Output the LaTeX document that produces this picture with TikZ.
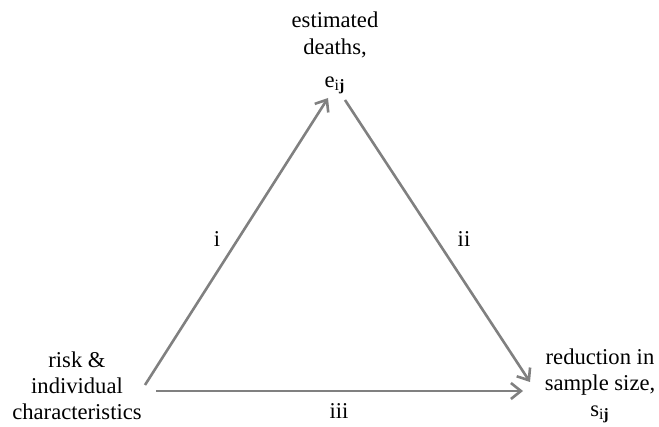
\documentclass[tikz,border=0pt]{standalone}
\usepackage{fontspec}
\setmainfont{Liberation Serif}
\usetikzlibrary{arrows.meta}
\begin{document}
\begin{tikzpicture}[x=0.5pt,y=-0.5pt,
  lbl/.style={font=\fontsize{11.3}{13}\selectfont, align=center, inner sep=0pt},
  toplbl/.style={lbl, font=\fontsize{11.3}{13.6}\selectfont},
  conn/.style={draw={rgb,255:red,128;green,128;blue,128}, line width=1.3pt,
    -{Straight Barb[length=5pt,width=8pt,line width=1.3pt]}}]
\useasboundingbox (0,0) rectangle (659,427);
\node[toplbl,anchor=north] (top) at (335,11) {estimated\\deaths,\\[3pt]e\textsubscript{i\textbf{j}}};
\node[lbl] (left) at (77,386) {risk \&\\individual\\characteristics};
\node[lbl] (right) at (600,386) {reduction in\\sample size,\\s\textsubscript{i\textbf{j}}};
\coordinate (a1) at (145,385);
\coordinate (a2) at (328,98);
\coordinate (b1) at (345,100);
\coordinate (b2) at (530,382);
\coordinate (c1) at (156,391);
\coordinate (c2) at (523,391);
\draw[conn] (a1) -- (a2);
\draw[conn] (b1) -- (b2);
\draw[conn] (c1) -- (c2);
\node[lbl] (li) at (217,239) {i};
\node[lbl] (lii) at (464,239) {ii};
\node[lbl] (liii) at (339,411) {iii};
\end{tikzpicture}
\end{document}
